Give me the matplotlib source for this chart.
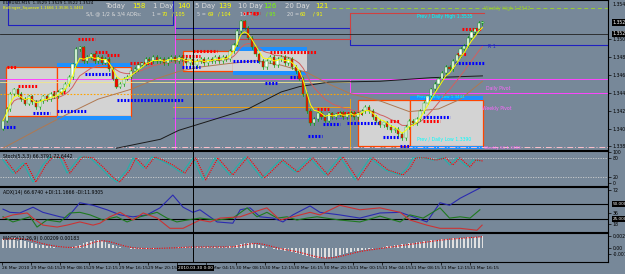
import matplotlib.pyplot as plt
import numpy as np
import pandas as pd

BG = '#778899'

# EURUSD M15, sampled every 30 minutes (bar index 0 = 29 Mar 00:00)
closes = [1.3414, 1.3427, 1.3444, 1.3449, 1.3444, 1.3438, 1.3433, 1.3441, 1.3435, 1.3429,
          1.3436, 1.3441, 1.3438, 1.3444, 1.3441, 1.3446, 1.3449, 1.3455, 1.3463, 1.3477,
          1.3494, 1.3496, 1.3481, 1.3485, 1.3488, 1.3481, 1.3485, 1.3479, 1.3483, 1.3472,
          1.3461, 1.3452, 1.3455, 1.3461, 1.3463, 1.3469, 1.3472, 1.3476, 1.3478, 1.3483,
          1.3481, 1.3485, 1.3481, 1.3483, 1.3478, 1.3483, 1.3485, 1.3481, 1.3485, 1.3483,
          1.3478, 1.3483, 1.3476, 1.3481, 1.3483, 1.3478, 1.3483, 1.3481, 1.3485, 1.3481,
          1.3485, 1.3483, 1.3492, 1.3499, 1.3514, 1.3525, 1.3518, 1.3507, 1.3496, 1.3488,
          1.3481, 1.3474, 1.3481, 1.3485, 1.3476, 1.3483, 1.3485, 1.3478, 1.3483, 1.3474,
          1.3469, 1.3461, 1.3444, 1.3425, 1.3411, 1.3416, 1.3423, 1.3418, 1.3414, 1.3422,
          1.3418, 1.3421, 1.3423, 1.3418, 1.3421, 1.3423, 1.3418, 1.3422, 1.3425, 1.3429,
          1.3425, 1.3418, 1.3414, 1.3409, 1.3412, 1.3407, 1.3403, 1.3405, 1.3399, 1.3394,
          1.3407, 1.3414, 1.3411, 1.3416, 1.3425, 1.3434, 1.3441, 1.3449, 1.3455, 1.3461,
          1.3467, 1.3474, 1.3472, 1.3481, 1.3487, 1.3494, 1.3498, 1.3507, 1.3513, 1.3516,
          1.3523, 1.3524]
first_open = 1.3405

# slow moving averages
ma_brown_x = [0, 5, 10, 18, 26, 35, 42, 48, 54, 62, 69, 76, 83, 89, 95, 103, 111, 119, 125, 131]
ma_brown = [1.3383, 1.3394, 1.3405, 1.3422, 1.3438, 1.3449, 1.3461, 1.3469, 1.3474, 1.3478,
            1.3481, 1.3476, 1.3468, 1.3455, 1.3444, 1.3436, 1.3424, 1.3427, 1.3438, 1.3458]
ma_black_x = [31, 43, 48, 67, 76, 81, 89, 103, 117, 131]
ma_black = [1.3383, 1.3393, 1.3403, 1.3427, 1.3446, 1.3452, 1.3457, 1.3458, 1.3462, 1.3464]

# range boxes
box_x0 = [0.8, 14.8, 49.2, 62.8, 97.0, 111.2]
box_x1 = [14.8, 35.0, 62.8, 83.1, 111.2, 131.1]
box_lo = [1.3419, 1.3419, 1.3469, 1.3469, 1.3386, 1.3386]
box_hi = [1.3474, 1.3474, 1.3492, 1.3492, 1.3437, 1.3437]
box_band = [False, True, False, True, False, True]

# fractal levels (start bar, end bar, price)
red_x0 = [20.5, 1.1, 4.1, 13.7, 25.1, 28.4, 34.7, 48.9, 65.6, 51.9, 73.0, 85.8, 91.3, 105.7, 114.8, 124.0, 125.4]
red_x1 = [25.1, 3.8, 9.3, 16.9, 28.4, 32.0, 41.0, 53.8, 70.2, 58.5, 85.8, 89.3, 98.4, 108.5, 119.4, 126.8, 130.9]
red_p = [1.3505, 1.3474, 1.3453, 1.3446, 1.3491, 1.3487, 1.3479, 1.3486, 1.3535, 1.3492, 1.3491,
         1.3427, 1.3422, 1.3414, 1.3414, 1.3488, 1.3516]
blue_x0 = [0.0, 8.2, 14.8, 22.4, 31.1, 48.9, 62.8, 71.6, 78.4, 83.3, 87.4, 94.0, 103.8, 108.5, 114.8, 123.5]
blue_x1 = [3.3, 12.8, 23.0, 29.2, 49.2, 53.8, 70.2, 74.9, 82.0, 87.2, 92.1, 103.0, 108.5, 111.2, 122.1, 131.7]
blue_p = [1.3407, 1.3423, 1.3425, 1.3466, 1.3437, 1.3474, 1.3481, 1.3456, 1.3463, 1.3397, 1.3410,
          1.3411, 1.3396, 1.3386, 1.3418, 1.3478]

# Stochastic %K
stoch_x = [0, 2.7, 5.5, 8.2, 10.9, 12.8, 15.6, 17.5, 21, 23.8, 26.5, 29.2, 31.1, 33.9, 35.5,
           38.3, 40.7, 42.9, 45.6, 48.9, 51.9, 54.6, 57.9, 62, 66.1, 70.7, 75.7, 79.8, 83.9,
           88, 92.1, 96.2, 100.3, 104.4, 108.5, 110.4, 112, 114.8, 117.5, 120.2, 122.1, 124,
           126.8, 128.4, 130.3]
stoch_k = [74, 32, 65, 3, 58, 84, 81, 32, 84, 81, 52, 19, 3, 42, 81,
           48, 84, 74, 58, 32, 81, 10, 81, 26, 84, 16, 74, 35, 81,
           26, 84, 10, 81, 42, 26, 48, 81, 81, 74, 81, 58, 81,
           52, 74, 71]

# ADX(14)
adx_x = [0, 1.9, 4.6, 8.2, 10.9, 15.6, 17.5, 21, 24.6, 28.4, 32, 35.5, 39.3, 42.9, 46.4, 49.2,
         51.9, 53.8, 58.5, 62.8, 64.8, 67.5, 70.2, 73.8, 76.5, 79.2, 83.9, 86.6, 92, 97.5, 103,
         108.5, 112, 115.8, 119.4, 122, 124.9, 130.3]
adx = [42, 37, 36, 45, 37, 30, 28, 52, 48, 41, 33, 30, 33, 44, 64, 45,
       37, 41, 22, 20, 41, 44, 30, 28, 22, 33, 47, 37, 33, 28, 36,
       37, 30, 22, 52, 48, 59, 75]
pdi_x = [0, 2.7, 7.4, 9.3, 12, 15.6, 18.3, 21, 23.8, 27.3, 31.1, 33.9, 37.4, 42.1, 44.8, 47.5,
         50.3, 53.8, 58.5, 62.8, 66.7, 69.4, 72.1, 74.9, 77.6, 80.3, 83.1, 85.8, 92, 97.5, 103,
         108.5, 111.2, 114.8, 119.4, 122, 124.9, 127.6, 130.3]
pdi = [30, 22, 30, 14, 25, 22, 36, 37, 33, 25, 30, 22, 30, 37, 28, 22,
       25, 28, 25, 28, 44, 30, 37, 28, 30, 25, 28, 30, 25, 22, 31,
       22, 33, 28, 44, 28, 30, 28, 41]
mdi_x = [0, 2.7, 6.6, 8.2, 10.9, 14.8, 17.5, 21, 24.6, 26.5, 29.2, 32, 35.5, 38.3, 42.1, 45.6,
         49.2, 53.8, 56.6, 59.3, 64.8, 68.3, 72.1, 75.7, 79.2, 83.9, 86.6, 92, 97.5, 103,
         108.5, 111.2, 115.8, 119.4, 124.9, 129.5, 130.9]
mdi = [28, 33, 36, 28, 17, 14, 17, 22, 17, 20, 30, 37, 25, 36, 28, 12,
       12, 25, 22, 28, 30, 37, 44, 25, 30, 37, 33, 48, 41, 44,
       37, 25, 17, 12, 12, 9, 17]

# MACD(12,26,9) main line, x1e-4
macd_main = [17, 18, 19, 19, 18, 16, 14, 12, 10, 8, 6, 5, 4, 3, 2,
             1, 1, 1, 1, 2, 3, 6, 9, 12, 14, 15, 15, 13, 11, 8,
             6, 4, 2, 1, 0, -1, -1, -1, -1, -1, -1, -1, 0, 0, 0,
             0, 1, 1, 2, 2, 2, 2, 2, 2, 2, 2, 2, 2, 2, 2,
             2, 2, 3, 4, 6, 8, 9, 10, 9, 8, 6, 4, 2, 0, -2,
             -3, -4, -5, -6, -8, -10, -12, -14, -16, -18, -19, -20, -20, -19, -18,
             -17, -15, -13, -11, -9, -7, -6, -5, -4, -3, -2, -1, 0, 1, 2,
             3, 4, 5, 6, 7, 8, 9, 10, 11, 12, 13, 14, 15, 16, 16,
             17, 18, 18, 19, 19, 20, 20, 21, 21, 22, 22, 23]

time_labels = ['26 Mar 2010', '29 Mar 04:15', '29 Mar 08:15', '29 Mar 12:15', '29 Mar 16:15',
               '29 Mar 20:15', '30 Mar 00:15', '30 Mar 04:15', '30 Mar 08:15', '30 Mar 12:15',
               '30 Mar 16:15', '30 Mar 20:15', '31 Mar 00:15', '31 Mar 04:15', '31 Mar 08:15',
               '31 Mar 12:15', '31 Mar 16:15']

W, H = 625, 274
fig = plt.figure(figsize=(W / 100, H / 100), dpi=100, facecolor=BG)


def panel(top, bottom):
    ax = fig.add_axes([0, 1 - bottom / H, 608 / W, (bottom - top) / H])
    ax.set_facecolor(BG)
    ax.set_xlim(-0.82, 165.3)
    ax.spines['left'].set_visible(False)
    for s in ['right', 'top', 'bottom']:
        ax.spines[s].set_color('black')
        ax.spines[s].set_linewidth(0.8)
    ax.yaxis.tick_right()
    ax.tick_params(axis='y', length=2, width=0.5, labelsize=3.3, pad=1.2, colors='black')
    ax.set_xticks([])
    return ax


def ftext(x, y, s, **kw):
    fig.text(x / W, 1 - y / H, s, va='center', ha='left', **kw)


ax_p = panel(0, 150)
ax_s = panel(151, 186)
ax_a = panel(187, 232)
ax_m = panel(233, 262)

# ---------------- price panel ----------------
ax_p.set_ylim(1.3381, 1.3549)
ax_p.set_yticks([1.3385, 1.3405, 1.3425, 1.3445, 1.3465, 1.3485, 1.3505])
ax_p.yaxis.set_major_formatter(plt.FormatStrFormatter('%.4f'))

for i in range(len(box_x0)):
    ax_p.add_patch(plt.Rectangle((box_x0[i], box_lo[i]), box_x1[i] - box_x0[i], box_hi[i] - box_lo[i],
                                 facecolor='#d3d3d3', edgecolor='#ff4500' if i != 3 else 'none',
                                 lw=0.9, zorder=1))
    if box_band[i]:
        for y0 in [box_hi[i], box_lo[i] - 0.0004]:
            ax_p.add_patch(plt.Rectangle((box_x0[i], y0), box_x1[i] - box_x0[i], 0.0004,
                                         facecolor='#1e90ff', edgecolor='none', zorder=1))

# level lines
ax_p.plot([1.3, 1.3, 46.5, 46.5], [1.3549, 1.3521, 1.3521, 1.3549], color='#2020c0', lw=0.8, zorder=2)
ax_p.plot([47, 94.8, 94.8, 165.3], [1.3518, 1.3518, 1.3499, 1.3499], color='#2020c0', lw=0.8, zorder=2)
ax_p.plot([47, 94.8, 94.8, 131.5], [1.3505, 1.3505, 1.3534, 1.3534], color='#d04040', lw=0.8, zorder=2)
ax_p.plot([47, 47], [1.3505, 1.3518], color='#2020c0', lw=0.8, zorder=2)
ax_p.plot([-0.8, 94.8], [1.3461, 1.3461], color='#ff44ff', lw=0.7, zorder=2)
ax_p.plot([94.8, 94.8, 165.3], [1.3445, 1.3461, 1.3461], color='#ff44ff', lw=0.7, zorder=2)
ax_p.plot([94.8, 165.3], [1.3445, 1.3445], color='#ff44ff', lw=0.7, zorder=2)
ax_p.plot([-0.8, 94.8], [1.3457, 1.3457], color='#f0e68c', lw=0.6, zorder=2)
ax_p.plot([-0.8, 94.8], [1.3444, 1.3444], color='#ffa500', lw=0.8, ls=(0, (1.5, 1.5)), zorder=2)
ax_p.plot([46.5, 94.8], [1.3429, 1.3429], color='#ffa500', lw=0.6, zorder=2)
ax_p.plot([46.5, 94.8], [1.3417, 1.3417], color='#6a5acd', lw=0.8, zorder=2)
ax_p.plot([94.8, 94.8], [1.3381, 1.3438], color='#ffa500', lw=0.6, zorder=2)
ax_p.plot([47, 47], [1.3381, 1.3531], color='#ff44ff', lw=0.7, zorder=2)
ax_p.plot([-0.8, 165.3], [1.3384, 1.3384], color='#ffc0cb', lw=0.7, ls=(0, (6, 2, 1, 2)), zorder=2)
ax_p.plot([90, 165.3], [1.3540, 1.3540], color='#9acd32', lw=0.7, ls=(0, (4, 3)), zorder=2)
ax_p.plot([-0.8, 165.3], [1.3511, 1.3511], color='#202020', lw=0.6, zorder=2)

# moving averages
cl = pd.Series(closes)
xb = np.arange(len(closes))
ax_p.plot(ma_black_x, ma_black, color='#1a1a1a', lw=0.7, zorder=3)
ax_p.plot(ma_brown_x, ma_brown, color='#b07850', lw=0.7, zorder=3)
ax_p.plot(xb, cl.ewm(span=12).mean(), color='#d06060', lw=0.7, zorder=3)

# fractal markers
for x0, x1, p in zip(red_x0, red_x1, red_p):
    ax_p.plot([x0, x1], [p, p], color='red', lw=2.2, ls=(0, (0.6, 0.5)), zorder=4)
for x0, x1, p in zip(blue_x0, blue_x1, blue_p):
    ax_p.plot([x0, x1], [p, p], color='blue', lw=2.2, ls=(0, (0.6, 0.5)), zorder=4)

# candles
opens = [first_open] + closes[:-1]
for i, (o, c) in enumerate(zip(opens, closes)):
    lo, hi = min(o, c), max(o, c)
    ax_p.plot([i, i], [lo - 0.0002, hi + 0.0002], color='#00a000', lw=0.5, zorder=5)
    ax_p.add_patch(plt.Rectangle((i - 0.3, lo), 0.6, max(hi - lo, 0.00008),
                                 facecolor='white' if c >= o else 'red',
                                 edgecolor='#00a000', lw=0.3, zorder=6))
ax_p.plot(xb, cl.ewm(span=4).mean(), color='yellow', lw=0.7, zorder=7)

# chart labels
fs = 3.3
ax_p.text(131.3, 1.3539, 'Weekly High 1.3542', color='#9acd32', fontsize=fs, va='center', zorder=8)
ax_p.text(113.0, 1.3530, 'Prev / Daily High 1.3535', color='#00ffff', fontsize=fs, va='center', zorder=8)
ax_p.text(132.5, 1.3497, 'R 1', color='#2020c0', fontsize=fs, va='center', zorder=8)
ax_p.text(113.0, 1.3440, 'Prev / Daily Low 1.3444', color='#00ffff', fontsize=3.0, va='center', zorder=8)
ax_p.text(113.0, 1.3393, 'Prev / Daily Low 1.3390', color='#00ffff', fontsize=fs, va='center', zorder=8)
ax_p.text(132.0, 1.3450, 'Daily Pivot', color='#ff66ff', fontsize=fs, va='center', zorder=8)
ax_p.text(131.0, 1.3427, 'Weekly Pivot', color='#ff66ff', fontsize=fs, va='center', zorder=8)
ax_p.text(131.5, 1.3383, 'Weekly S1 1.3383', color='#ff66ff', fontsize=3.0, va='center', zorder=8)

# right side price boxes
ax_p.text(1.0075, 1.3524, '1.3524', transform=ax_p.get_yaxis_transform(), color='white', fontsize=fs,
          va='center', bbox=dict(facecolor='black', edgecolor='none', pad=0.6))
ax_p.text(1.0075, 1.3511, '1.3522', transform=ax_p.get_yaxis_transform(), color='white', fontsize=fs,
          va='center', bbox=dict(facecolor='black', edgecolor='none', pad=0.6))
ftext(612, 5, '1.3548', fontsize=fs, color='black')

# ---------------- stochastic ----------------
ax_s.set_ylim(-9.7, 103.2)
ax_s.set_yticks([100, 80, 20, 0])
for lv in [80, 20]:
    ax_s.axhline(lv, color='#d0d0d0', lw=0.6, ls=(0, (1.5, 1.5)))
ax_s.plot(stoch_x, stoch_k, color='#20b2aa', lw=0.8)
ax_s.plot(np.array(stoch_x) + 0.8, stoch_k, color='red', lw=0.8, ls=(0, (1, 1)))
ax_s.text(0.005, 0.92, 'Stoch(5,3,3) 66.3791 72.6442', transform=ax_s.transAxes, fontsize=fs, va='top')

# ---------------- ADX ----------------
ax_a.set_ylim(6.25, 76.6)
ax_a.set_yticks([72, 36, 18])
for lv in [50, 26.6]:
    ax_a.axhline(lv, color='black', lw=0.8)
ax_a.plot(adx_x, adx, color='#2b2bb0', lw=0.8)
ax_a.plot(pdi_x, pdi, color='#1f7a1f', lw=0.8)
ax_a.plot(mdi_x, mdi, color='#cc3333', lw=0.8)
ax_a.text(0.005, 0.93, 'ADX(14) 66.6740 +DI:11.1666 -DI:11.9305', transform=ax_a.transAxes, fontsize=fs, va='top')
for lv, s in [(50, '50.0000'), (26.6, '25.0000')]:
    ax_a.text(1.0075, lv, s, transform=ax_a.get_yaxis_transform(), color='white', fontsize=3.0,
              va='center', bbox=dict(facecolor='black', edgecolor='none', pad=0.5))

# ---------------- MACD ----------------
m = np.array(macd_main) * 1e-4
ax_m.set_ylim(-0.0027, 0.0029)
ax_m.set_yticks([0.00231, 0.0, -0.00117])
ax_m.set_yticklabels(['0.00231', '0.00', '-0.00117'])
ax_m.bar(xb, m, width=0.45, color='#e0e0e0', edgecolor='none')
ax_m.plot(xb, pd.Series(m).rolling(5, min_periods=1).mean(), color='red', lw=0.8, ls=(0, (1, 1.2)))
ax_m.text(0.005, 0.9, 'MACD(12,26,9) 0.00209 0.00183', transform=ax_m.transAxes, fontsize=fs, va='top')
ax_m.set_xticks(np.arange(len(time_labels)) * 8 - 0.4)
ax_m.set_xticklabels(time_labels, ha='left')
ax_m.tick_params(axis='x', length=2, width=0.5, labelsize=3.2, pad=1.0, colors='black')
# the crosshair time box covers this label on the terminal
ax_m.get_xticklabels()[6].set_visible(False)

# crosshair
for ax in [ax_p, ax_s, ax_a, ax_m]:
    ax.axvline(51.9, color='black', lw=0.7, zorder=9)
ftext(178, 268, '2010.03.30 0:00', fontsize=3.1, color='white',
      bbox=dict(facecolor='black', edgecolor='none', pad=0.7))

# header texts
ftext(3, 3, 'EURUSD,M15  1.3529 1.3529 1.3522 1.3524', fontsize=3.0, color='black')
ftext(3, 8.5, 'Bollinger_Squeeze 1.1666 1.3536 1.3463', fontsize=2.8, color='yellow')
hdr = [(105, 'Today', '#dcdcdc'), (132, '158', 'yellow'), (153, '1 Day', '#dcdcdc'), (177, '140', 'yellow'),
       (195, '5 Day', '#dcdcdc'), (218, '139', 'yellow'), (238, '10 Day', '#dcdcdc'), (263, '126', '#7cfc00'),
       (285, '20 Day', '#dcdcdc'), (315, '121', 'yellow')]
for x, s, c in hdr:
    ftext(x, 6, s, fontsize=5.0, color=c)
sl = [(86, 'S/L @ 1/2 & 3/4 ADRs:', '#dcdcdc'), (152, '1 =', '#dcdcdc'), (162, '70', 'yellow'),
      (172, '/ 105', 'yellow'), (197, '5 =', '#dcdcdc'), (208, '69', 'yellow'), (218, '/ 104', 'yellow'),
      (240, '10 =', '#dcdcdc'), (253, '63', 'red'), (266, '/ 95', '#7cfc00'), (287, '20 =', '#dcdcdc'),
      (300, '60', 'yellow'), (313, '/ 91', 'yellow')]
for x, s, c in sl:
    ftext(x, 14, s, fontsize=3.6, color=c)

fig.savefig('out.png', dpi=100, facecolor=BG)
